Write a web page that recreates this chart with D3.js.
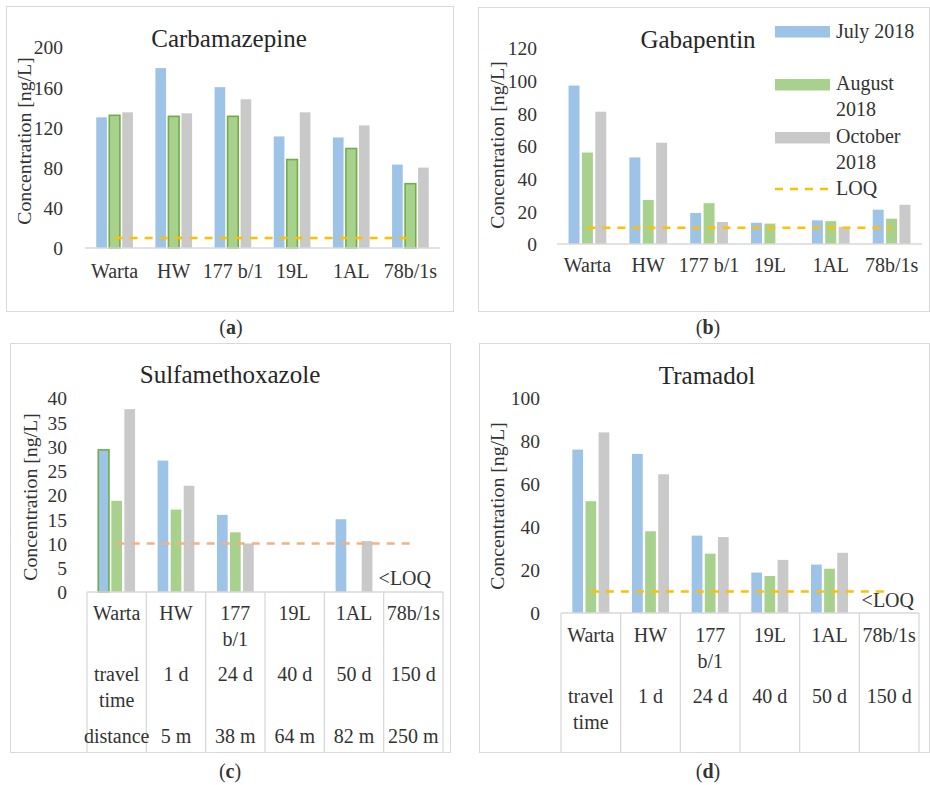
<!DOCTYPE html>
<html><head><meta charset="utf-8">
<script src="https://cdn.jsdelivr.net/npm/d3@7/dist/d3.min.js"></script>
<style>
body{margin:0;background:#fff;}
svg text{font-family:"Liberation Serif","Times New Roman",serif;fill:#333;}
</style></head>
<body><svg id="c" width="930" height="785"></svg>
<script>
// ---- data ----
const categories = ["Warta","HW","177 b/1","19L","1AL","78b/1s"];
const tableCategories = [["Warta"],["HW"],["177","b/1"],["19L"],["1AL"],["78b/1s"]];
const seriesNames = ["July 2018","August 2018","October 2018"];
const legendLabels = [["July 2018"],["August","2018"],["October","2018"],["LOQ"]];
const travelTime = [["travel","time"],["1 d"],["24 d"],["40 d"],["50 d"],["150 d"]];
const distance = [["distance"],["5 m"],["38 m"],["64 m"],["82 m"],["250 m"]];

const carbJuly    = [130, 179, 160, 111, 110, 83];
const carbAugust  = [132, 131, 131, 88, 99, 64];
const carbOctober = [135, 134, 148, 135, 122, 80];
const carbTicks = [0,40,80,120,160,200];

const gabaJuly    = [97, 53, 19, 13, 14.5, 21];
const gabaAugust  = [56, 27, 25, 12.5, 14, 15.5];
const gabaOctober = [81, 62, 13.5, null, 10.5, 24];
const gabaTicks = [0,20,40,60,80,100,120];

const sulfJuly    = [29.3, 27.1, 15.9, null, 15.0, null];
const sulfAugust  = [18.8, 17.0, 12.3, null, null, null];
const sulfOctober = [37.7, 21.9, 10.0, null, 10.5, null];
const sulfTicks = [0,5,10,15,20,25,30,35,40];

const tramJuly    = [76, 74, 36, 18.8, 22.5, null];
const tramAugust  = [52, 38, 27.6, 17.2, 20.6, null];
const tramOctober = [84, 64.5, 35.3, 24.7, 28, null];
const tramTicks = [0,20,40,60,80,100];

const loq = 10;

// ---- styles ----
const colors = ["#9DC3E6","#A9D18E","#C9C9C9"];
const svg = d3.select("#c");

function panel(cfg){
  const g = svg.append("g");
  g.append("rect").attr("x",cfg.frame[0]+0.5).attr("y",cfg.frame[1]+0.5)
    .attr("width",cfg.frame[2]-cfg.frame[0]).attr("height",cfg.frame[3]-cfg.frame[1])
    .attr("fill","none").attr("stroke","#D9D9D9");

  const y = d3.scaleLinear().domain([0,cfg.ticks[cfg.ticks.length-1]]).range([cfg.base,cfg.top]);
  const x0 = d3.scaleBand().domain(categories).range([cfg.left,cfg.right]).padding(0);
  const bw = x0.bandwidth();
  const x1 = d3.scaleBand().domain(seriesNames).range([bw*0.19,bw*0.81]).paddingInner(0.18);

  // title
  g.append("text").attr("x",cfg.titleX).attr("y",cfg.titleY).attr("text-anchor","middle")
    .attr("font-size",25).style("fill","#262626").text(cfg.title);
  // y title
  g.append("text").attr("transform",`translate(${cfg.ytX},${cfg.ytY}) rotate(-90)`)
    .attr("text-anchor","middle").attr("dy","0.35em").attr("font-size",19.8).text("Concentration [ng/L]");
  // ticks
  const yAxis = d3.axisLeft(y).tickValues(cfg.ticks).tickSize(0).tickPadding(0);
  const ax = g.append("g").attr("transform",`translate(${cfg.tickX},0)`).call(yAxis);
  ax.select(".domain").remove();
  ax.selectAll("text").attr("font-size",19.5).style("fill","#333").attr("dy","0.35em");

  // bars
  cfg.series.forEach((vals,si)=>{
    g.append("g").selectAll("rect").data(vals.map((v,i)=>({v,i})).filter(d=>d.v!=null)).join("rect")
      .attr("x",d=>x0(categories[d.i])+x1(seriesNames[si]))
      .attr("y",d=>y(d.v))
      .attr("width",x1.bandwidth())
      .attr("height",d=>y(0)-y(d.v))
      .attr("fill",colors[si])
      .attr("stroke",d=>(cfg.outline && cfg.outline(si,d.i))?"#70AD47":"none")
      .attr("stroke-width",1.6);
  });
  // axis baseline
  g.append("line").attr("x1",cfg.left).attr("x2",cfg.right).attr("y1",y(0)).attr("y2",y(0))
    .attr("stroke","#D9D9D9").attr("stroke-width",1.6);
  // LOQ line
  g.append("line").attr("x1",x0(categories[0])+bw/2).attr("x2",x0(categories[5])+bw/2)
    .attr("y1",y(loq)).attr("y2",y(loq)).attr("stroke",cfg.loqColor)
    .attr("stroke-width",2.5).attr("stroke-dasharray","8,7");

  if(!cfg.table){
    g.append("g").selectAll("text").data(categories).join("text")
      .attr("x",d=>x0(d)+bw/2).attr("y",cfg.catY).attr("text-anchor","middle")
      .attr("font-size",20).text(d=>d);
  } else {
    const t = g.append("g");
    const tb = cfg.frame[3];
    const bounds = categories.map(c=>x0(c)).concat([cfg.right]);
    t.selectAll("line.v").data(bounds).join("line").attr("class","v")
      .attr("x1",d=>d).attr("x2",d=>d).attr("y1",y(0)).attr("y2",tb)
      .attr("stroke","#D9D9D9").attr("stroke-width",1.3);
    const rows = [[tableCategories, cfg.rowY[0]],[travelTime, cfg.rowY[1]]];
    if(cfg.rowY[2]) rows.push([distance, cfg.rowY[2]]);
    rows.forEach(([arr,ry])=>{
      arr.forEach((lines,i)=>{
        lines.forEach((ln,li)=>{
          t.append("text").attr("x",x0(categories[i])+bw/2).attr("y",ry+li*25.5)
            .attr("text-anchor","middle").attr("font-size",20).text(ln);
        });
      });
    });
    g.append("text").attr("x",cfg.ltX).attr("y",cfg.ltY).attr("text-anchor","end")
      .attr("font-size",20).text("<LOQ");
  }
  // caption
  const cap = g.append("text").attr("x",cfg.capX).attr("y",cfg.capY).attr("text-anchor","middle").attr("font-size",20);
  cap.append("tspan").text("(");
  cap.append("tspan").attr("font-weight","bold").text(cfg.letter);
  cap.append("tspan").text(")");
  return g;
}

panel({id:"a",frame:[6,6,453,311],left:85,right:440,base:248,top:47,ticks:carbTicks,tickX:63,
  title:"Carbamazepine",titleX:229,titleY:47,ytX:24,ytY:141,catY:278,
  series:[carbJuly,carbAugust,carbOctober],outline:(si)=>si===1,loqColor:"#FFC000",
  capX:231,capY:334,letter:"a"});
panel({id:"b",frame:[478,7,929,311],left:557,right:922,base:244,top:48,ticks:gabaTicks,tickX:537,
  title:"Gabapentin",titleX:698,titleY:48,ytX:497,ytY:145,catY:272,
  series:[gabaJuly,gabaAugust,gabaOctober],loqColor:"#FFC000",
  capX:708,capY:334,letter:"b"});
panel({id:"c",frame:[10,343,450,752],left:87,right:443,base:592,top:398,ticks:sulfTicks,tickX:67,
  title:"Sulfamethoxazole",titleX:230,titleY:383,ytX:30,ytY:497,table:true,rowY:[620,681,743],
  series:[sulfJuly,sulfAugust,sulfOctober],outline:(si,i)=>si===0&&i===0,loqColor:"#F4B183",
  ltX:431,ltY:585,capX:230,capY:778,letter:"c"});
panel({id:"d",frame:[479,343,929,752],left:561,right:919,base:613,top:398,ticks:tramTicks,tickX:540,
  title:"Tramadol",titleX:707,titleY:384,ytX:497,ytY:506,table:true,rowY:[642,703,null],
  series:[tramJuly,tramAugust,tramOctober],loqColor:"#FFC000",
  ltX:914,ltY:607,capX:708,capY:778,letter:"d"});

// legend (panel b)
const lg = svg.append("g");
const lgY = [26,79,132];
seriesNames.forEach((s,i)=>{
  lg.append("rect").attr("x",775).attr("y",lgY[i]).attr("width",55).attr("height",11.5).attr("fill",colors[i]);
});
lg.append("line").attr("x1",775).attr("x2",830).attr("y1",189).attr("y2",189)
  .attr("stroke","#FFC000").attr("stroke-width",2.5).attr("stroke-dasharray","8,7");
const ltY = [38,90,143,195];
legendLabels.forEach((lines,i)=>{
  lines.forEach((ln,li)=>{
    lg.append("text").attr("x",836).attr("y",ltY[i]+li*25.5).attr("font-size",20).text(ln);
  });
});
</script></body></html>
